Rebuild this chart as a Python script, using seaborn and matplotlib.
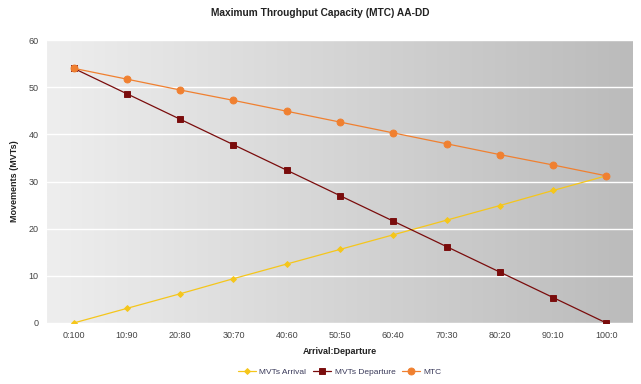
import numpy as np
import pandas as pd
import matplotlib
matplotlib.use("Agg")
import matplotlib.pyplot as plt
import seaborn as sns
from matplotlib.colors import LinearSegmentedColormap

categories = ["0:100", "10:90", "20:80", "30:70", "40:60", "50:50",
              "60:40", "70:30", "80:20", "90:10", "100:0"]
mvts_arrival = [0, 3.1, 6.2, 9.4, 12.5, 15.6, 18.7, 21.8, 24.9, 28.1, 31.2]
mvts_departure = [54, 48.6, 43.2, 37.8, 32.4, 27.0, 21.6, 16.2, 10.8, 5.4, 0]
mtc = [54, 51.7, 49.4, 47.2, 44.9, 42.6, 40.3, 38.0, 35.7, 33.5, 31.2]
y_ticks = [0, 10, 20, 30, 40, 50, 60]

sns.set_theme(style="white")
plt.rcParams['font.family'] = ['Liberation Sans', 'DejaVu Sans']

fig = plt.figure(figsize=(6.41, 3.84), dpi=100)
ax = fig.add_axes([47/641, 1-323/384, (633-47)/641, (323-40)/384])

# gradient background
grad = np.linspace(0, 1, 256)[None, :]
cmap = LinearSegmentedColormap.from_list("bg", ["#eeeeee", "#bbbbbb"])
ax.imshow(grad, extent=[0, 1, 0, 1], transform=ax.transAxes, cmap=cmap,
          aspect="auto", zorder=-2)

series = [
    ("MVTs Arrival", mvts_arrival, "#f5c61b", "D", 3),
    ("MVTs Departure", mvts_departure, "#7a0c0c", "s", 4),
    ("MTC", mtc, "#f08030", "o", 5),
]
for i, (name, vals, col, mk, ms) in enumerate(series):
    df = pd.DataFrame({"ratio": categories, "v": vals})
    sns.pointplot(data=df, x="ratio", y="v", color=col, marker=mk,
                  markersize=ms, linewidth=0.9, ax=ax, label=name,
                  order=categories, zorder=3 + i)

ax.set_ylim(0, 60)
ax.set_yticks(y_ticks)
ax.set_xlim(-0.5, len(categories) - 0.5)
ax.yaxis.grid(True, color="white", linewidth=1.0)
ax.set_axisbelow(True)
for s in ax.spines.values():
    s.set_visible(False)
ax.tick_params(axis="both", labelsize=6.5, colors="#444444", length=0, pad=6)
ax.set_xlabel("Arrival:Departure", fontsize=6.5, fontweight="bold", color="#222222", labelpad=5)
ax.set_ylabel("Movements (MVTs)", fontsize=6.5, fontweight="bold", color="#222222", labelpad=7)
fig.suptitle("Maximum Throughput Capacity (MTC) AA-DD", fontsize=7.3,
             fontweight="bold", color="#222222", y=0.98)

handles, labels = ax.get_legend_handles_labels()
ax.legend(handles, labels, loc="center", bbox_to_anchor=(0.53, (384-372)/384),
          bbox_transform=fig.transFigure, ncol=3, frameon=False, fontsize=6,
          handlelength=2.2, columnspacing=0.8, handletextpad=0.4,
          labelcolor="#3a3a5a")

fig.savefig("out.png", dpi=100)
